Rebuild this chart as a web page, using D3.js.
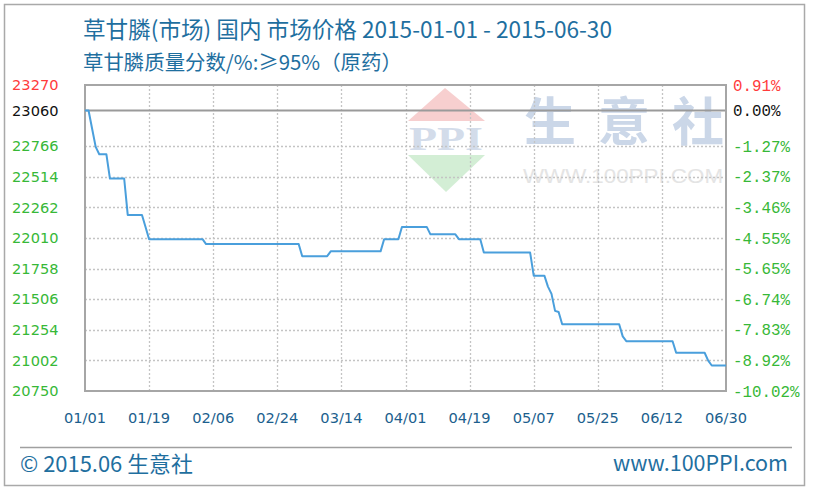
<!DOCTYPE html>
<html><head><meta charset="utf-8">
<script src="https://cdn.jsdelivr.net/npm/d3@7"></script>
<style>
html,body{margin:0;padding:0;background:#fff;}
svg{display:block;}
</style></head>
<body>
<svg id="chart" width="813" height="492"></svg>
<script>
// ---- data ----
const dates = ["2015-01-01","2015-01-02","2015-01-03","2015-01-04","2015-01-05","2015-01-07","2015-01-08","2015-01-12","2015-01-13","2015-01-17","2015-01-18","2015-01-19","2015-02-03","2015-02-04","2015-03-02","2015-03-03","2015-03-10","2015-03-11","2015-03-25","2015-03-26","2015-03-30","2015-03-31","2015-04-07","2015-04-08","2015-04-15","2015-04-16","2015-04-22","2015-04-23","2015-05-06","2015-05-07","2015-05-10","2015-05-11","2015-05-12","2015-05-13","2015-05-14","2015-05-15","2015-05-31","2015-06-01","2015-06-02","2015-06-15","2015-06-16","2015-06-24","2015-06-25","2015-06-26","2015-06-30"];
const prices = [23060,23060,22910,22760,22700,22700,22500,22500,22200,22200,22100,22000,22000,21960,21960,21860,21860,21900,21900,22000,22000,22100,22100,22040,22040,22000,22000,21890,21890,21700,21700,21610,21550,21410,21400,21300,21300,21200,21160,21160,21065,21065,21000,20960,20960];
const xTickLabels = ["01/01","01/19","02/06","02/24","03/14","04/01","04/19","05/07","05/25","06/12","06/30"];
const xTickDates = ["2015-01-01","2015-01-19","2015-02-06","2015-02-24","2015-03-14","2015-04-01","2015-04-19","2015-05-07","2015-05-25","2015-06-12","2015-06-30"];
const yTicks = [20750,21002,21254,21506,21758,22010,22262,22514,22766,23060,23270];
const pctLabels = ["-10.02%","-8.92%","-7.83%","-6.74%","-5.65%","-4.55%","-3.46%","-2.37%","-1.27%","0.00%","0.91%"];
const basePrice = 23060;
const titleLine1 = "草甘膦(市场) 国内 市场价格 2015-01-01 - 2015-06-30";
const titleLine2 = "草甘膦质量分数/%:≥95%（原药）";
const footerLeft = "© 2015.06 生意社";
const footerRight = "www.100PPI.com";
const watermarkChars = ["生","意","社"];

// ---- layout ----
const svg = d3.select("#chart");
const L = 85, R = 726, T = 85, B = 391;
const parse = d3.timeParse("%Y-%m-%d");
const x = d3.scaleTime().domain([parse("2015-01-01"), parse("2015-06-30")]).range([L, R]);
const y = d3.scaleLinear().domain([20750, 23270]).range([B, T]);
const CJK = "'Noto Sans CJK SC','Noto Sans',sans-serif";
const blue = "#1f6f9f";

function fitText(sel, target){
  const w = sel.node().getComputedTextLength();
  const fs = parseFloat(sel.attr("font-size"));
  sel.attr("font-size", (fs*target/w).toFixed(2));
}

// outer frame
svg.append("rect").attr("x",4.5).attr("y",4.5).attr("width",800).attr("height",481)
  .attr("fill","none").attr("stroke","#a9a9a9").attr("stroke-width",1.5);

// titles
const t1 = svg.append("text").attr("x",83).attr("y",38).attr("font-family",CJK).attr("font-size",20)
  .attr("fill",blue).text(titleLine1);
fitText(t1, 529);
const t2 = svg.append("text").attr("x",83).attr("y",70).attr("font-family",CJK).attr("font-size",20)
  .attr("fill",blue).text(titleLine2);
fitText(t2, 319);

// watermark
const wm = svg.append("g");
wm.append("path").attr("d","M445,88 L485,121 L408,121 Z").attr("fill","#f7cfcf");
wm.append("path").attr("d","M408,155 L485,155 L446,192 Z").attr("fill","#d3eed5");
wm.append("text").attr("x",446).attr("y",150).attr("text-anchor","middle")
  .attr("font-family","'Liberation Serif',serif").attr("font-weight","bold").attr("font-size",34)
  .attr("fill","#d3dcea").attr("textLength",74).attr("lengthAdjust","spacingAndGlyphs").text("PPI");
wm.selectAll("text.wmc").data(watermarkChars).join("text").attr("class","wmc")
  .attr("x",(d,i)=>550 + i*74).attr("y",141).attr("text-anchor","middle")
  .attr("font-family",CJK).attr("font-weight","bold")
  .attr("font-size",52).attr("fill","#cbd7e8").text(d=>d);
wm.append("text").attr("x",523).attr("y",183).attr("font-family","'Liberation Sans',Arial,sans-serif")
  .attr("font-size",20).attr("fill","#e4e4e4").attr("textLength",200).attr("lengthAdjust","spacingAndGlyphs").text("WWW.100PPI.COM");

// grid
const g = svg.append("g");
g.selectAll("line.hg").data(yTicks.filter(v => v > 20750 && v < basePrice)).join("line")
  .attr("x1",L).attr("x2",R).attr("y1",d=>Math.round(y(d))+0.5).attr("y2",d=>Math.round(y(d))+0.5)
  .attr("stroke","#c4c4c4").attr("stroke-width",1.3).attr("stroke-dasharray","2,2");
g.selectAll("line.vg").data(xTickDates.slice(1,-1)).join("line")
  .attr("x1",d=>Math.round(x(parse(d)))+0.5).attr("x2",d=>Math.round(x(parse(d)))+0.5).attr("y1",T).attr("y2",B)
  .attr("stroke","#c4c4c4").attr("stroke-width",1.3).attr("stroke-dasharray","2,2");

// baseline
g.append("line").attr("x1",L).attr("x2",R).attr("y1",y(basePrice)).attr("y2",y(basePrice))
  .attr("stroke","#9a9a9a").attr("stroke-width",2);

// plot border
svg.append("rect").attr("x",L).attr("y",T).attr("width",R-L).attr("height",B-T)
  .attr("fill","none").attr("stroke","#a6a6a6").attr("stroke-width",2);

// line
const line = d3.line().x((d,i)=>x(parse(dates[i]))).y(d=>y(d));
svg.append("path").datum(prices).attr("d",line).attr("fill","none")
  .attr("stroke","#4a9fdc").attr("stroke-width",2).attr("stroke-linejoin","round");

// left axis labels
function tickColor(v){ return v > basePrice ? "#ff3b3b" : (v === basePrice ? "#111" : "#37b837"); }
svg.append("g").selectAll("text").data(yTicks).join("text")
  .attr("x",58.5).attr("y",d=>y(d)).attr("dy","0.36em").attr("text-anchor","end")
  .attr("font-family","'DejaVu Sans',Verdana,sans-serif").attr("font-size",14.6)
  .attr("fill",d=>tickColor(d)).text(d=>d);

// right axis labels
svg.append("g").selectAll("text").data(yTicks).join("text")
  .attr("x",733).attr("y",d=>y(d)).attr("dy","0.36em").attr("text-anchor","start")
  .attr("font-family","'Liberation Mono','Courier New',monospace").attr("font-size",15.8)
  .attr("fill",d=>tickColor(d)).text((d,i)=>pctLabels[i]);

// x axis labels
svg.append("g").selectAll("text").data(xTickDates).join("text")
  .attr("x",d=>x(parse(d))).attr("y",423).attr("text-anchor","middle")
  .attr("font-family","'DejaVu Sans',Verdana,sans-serif").attr("font-size",14.6)
  .attr("fill","#1c5f8e").text((d,i)=>xTickLabels[i]);

// footer
svg.append("line").attr("x1",20).attr("x2",792).attr("y1",447.5).attr("y2",447.5)
  .attr("stroke","#a0a0a0").attr("stroke-width",1.3);
const f1 = svg.append("text").attr("x",20).attr("y",472).attr("font-family",CJK).attr("font-size",18)
  .attr("fill",blue).text(footerLeft);
fitText(f1, 173);
const f2 = svg.append("text").attr("x",788).attr("y",471).attr("text-anchor","end").attr("font-family",CJK).attr("font-size",18)
  .attr("fill",blue).text(footerRight);
fitText(f2, 175);
</script>
</body></html>
